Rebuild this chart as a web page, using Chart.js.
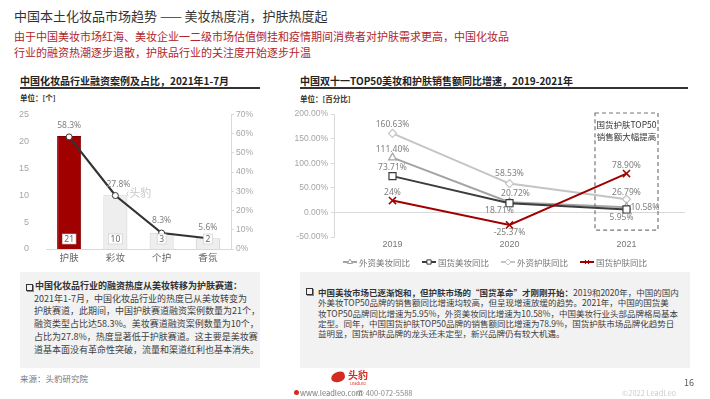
<!DOCTYPE html>
<html>
<head>
<meta charset="utf-8">
<script src="https://cdn.jsdelivr.net/npm/chart.js@4.4.0/dist/chart.umd.min.js"></script>
<style>
  body { margin: 0; width: 710px; height: 399px; overflow: hidden; background: #fff;
         font-family: "Noto Sans CJK SC", "Noto Sans", sans-serif; position: relative; }
  .abs { position: absolute; white-space: nowrap; }
  .ctitle { font-size: 10px; font-weight: bold; color: #222; line-height: 12px; }
  .rule { position: absolute; height: 1.5px; background: #333; }
  .unit { font-size: 7.5px; font-weight: bold; color: #333; line-height: 10px; }
  .box { position: absolute; background: #f2f2f2; color: #404040; }
  .sq { display: inline-block; width: 5px; height: 5px; border: 1px solid #333; box-shadow: 1px 1px 0 #888; position: absolute; }
</style>
</head>
<body>
<div class="abs" style="left:14px;top:7px;font-size:13px;line-height:18px;color:#333;">中国本土化妆品市场趋势 —— 美妆热度消，护肤热度起</div>
<div class="abs" style="left:14px;top:29px;font-size:11px;line-height:15.6px;color:#b0262b;">由于中国美妆市场红海、美妆企业一二级市场估值倒挂和疫情期间消费者对护肤需求更高，中国化妆品<br>行业的融资热潮逐步退散，护肤品行业的关注度开始逐步升温</div>

<div class="abs ctitle" style="left:20px;top:75px;">中国化妆品行业融资案例及占比，2021年1-7月</div>
<div class="rule" style="left:20px;top:87px;width:240px;"></div>
<div class="abs unit" style="left:20px;top:93px;">单位：[个]</div>

<div class="abs ctitle" style="left:300px;top:75px;">中国双十一TOP50美妆和护肤销售额同比增速，2019-2021年</div>
<div class="rule" style="left:300px;top:87px;width:388px;"></div>
<div class="abs unit" style="left:300px;top:94px;">单位：[百分比]</div>

<canvas id="fundChart" width="265" height="170" style="position:absolute;left:0;top:100px;"></canvas>
<canvas id="growthChart" width="420" height="172" style="position:absolute;left:285px;top:104px;"></canvas>

<div class="abs" style="left:126px;top:185px;font-size:11px;line-height:14px;color:#c8c8c8;">‹头豹</div>

<div class="box" style="left:20px;top:272px;width:240px;height:96px;">
  <span class="sq" style="left:6px;top:12px;"></span>
  <div class="abs" style="left:15px;top:8px;font-size:9px;line-height:12.7px;font-weight:bold;color:#333;">中国化妆品行业的融资热度从美妆转移为护肤赛道：</div>
  <div class="abs" style="left:14px;top:20.7px;font-size:9px;line-height:12.7px;">2021年1-7月，中国化妆品行业的热度已从美妆转变为<br>护肤赛道，此期间，中国护肤赛道融资案例数量为21个，<br>融资类型占比达58.3%。美妆赛道融资案例数量为10个，<br>占比为27.8%，热度显著低于护肤赛道。这主要是美妆赛<br>道基本面没有革命性突破，流量和渠道红利也基本消失。</div>
</div>

<div class="box" style="left:300px;top:272px;width:390px;height:96px;">
  <span class="sq" style="left:6px;top:16px;"></span>
  <div class="abs" style="left:18px;top:15px;font-size:8.5px;line-height:10.3px;"><b style="color:#333;">中国美妆市场已逐渐饱和，但护肤市场的“国货革命”才刚刚开始：</b>2019和2020年，中国的国内<br>外美妆TOP50品牌的销售额同比增速均较高，但呈现增速放缓的趋势。2021年，中国的国货美<br>妆TOP50品牌同比增速为5.95%，外资美妆同比增速为10.58%，中国美妆行业头部品牌格局基本<br>定型。同年，中国国货护肤TOP50品牌的销售额同比增速为78.9%，国货护肤市场品牌化趋势日<br>益明显，国货护肤品牌的龙头还未定型，新兴品牌仍有较大机遇。</div>
</div>

<div class="abs" style="left:20px;top:372px;font-size:8.5px;line-height:12px;color:#777;">来源：头豹研究院</div>

<div style="position:absolute;left:331px;top:372px;width:14px;height:10px;background:#d42a20;border-radius:60% 40% 50% 50%;transform:rotate(-15deg);"></div>
<div class="abs" style="left:348px;top:369px;font-size:10px;line-height:12px;font-weight:bold;color:#d42a20;">头豹</div>
<div class="abs" style="left:350px;top:381px;font-size:4px;line-height:5px;color:#d42a20;">LeadLeo</div>
<div style="position:absolute;left:294px;top:390px;width:5px;height:5px;border-radius:50%;background:#d42a20;"></div>
<div class="abs" style="left:300px;top:387px;font-size:7.5px;line-height:11px;color:#777;">www.leadleo.com</div>
<div class="abs" style="left:357px;top:387px;font-size:7.5px;line-height:11px;color:#888;">✆ 400-072-5588</div>
<div class="abs" style="left:684px;top:377px;font-size:9px;line-height:12px;color:#555;">16</div>
<div class="abs" style="left:622px;top:387px;font-size:7.5px;line-height:11px;color:#ccc;">©2022 LeadLeo</div>

<script>
// left chart: financing cases 2021 Jan-Jul
const fundCats = ['护肤', '彩妆', '个护', '香氛'];
const fundCounts = [21, 10, 3, 2];
const fundShares = [58.3, 27.8, 8.3, 5.6];

// right chart: Double 11 TOP50 yoy growth (%)
const growthYears = ['2019', '2020', '2021'];
const foreignMakeup = [111.40, 20.72, 10.58];
const domesticMakeup = [73.71, 18.71, 5.95];
const foreignSkin = [160.63, 58.53, 26.79];
const domesticSkin = [24, -25.37, 78.90];

const labelFont = '8.5px "Noto Sans", "Noto Sans CJK SC", sans-serif';

// draws value labels next to points, offsets kept per dataset
const pointLabels = {
    id: 'pointLabels',
    afterDatasetsDraw(chart, args, opts) {
        const ctx = chart.ctx;
        ctx.save();
        ctx.font = labelFont;
        ctx.fillStyle = '#808080';
        ctx.textBaseline = 'middle';
        chart.data.datasets.forEach((ds, i) => {
            if (!ds.labelOffsets) return;
            chart.getDatasetMeta(i).data.forEach((pt, j) => {
                const off = ds.labelOffsets[j];
                ctx.textAlign = off[2] || 'center';
                ctx.fillText(opts.format(ds.data[j]), pt.x + off[0], pt.y + off[1]);
            });
        });
        ctx.restore();
    }
};

// small white boxes with the count at the foot of each bar
const barValueBoxes = {
    id: 'barValueBoxes',
    afterDatasetsDraw(chart) {
        const ctx = chart.ctx;
        const meta = chart.getDatasetMeta(1);
        ctx.save();
        ctx.font = '8.5px "Noto Sans", sans-serif';
        ctx.textAlign = 'center';
        ctx.textBaseline = 'middle';
        meta.data.forEach((bar, j) => {
            const txt = String(fundCounts[j]);
            const w = ctx.measureText(txt).width + 4;
            const cy = bar.base - 10;
            ctx.fillStyle = '#fff';
            ctx.fillRect(bar.x - w / 2, cy - 5, w, 10);
            ctx.strokeStyle = '#c8c8c8';
            ctx.lineWidth = 0.6;
            ctx.strokeRect(bar.x - w / 2, cy - 5, w, 10);
            ctx.fillStyle = '#666';
            ctx.fillText(txt, bar.x, cy + 0.5);
        });
        ctx.restore();
    }
};

new Chart(document.getElementById('fundChart'), {
    type: 'bar',
    data: {
        labels: fundCats,
        datasets: [{
            type: 'line',
            data: fundShares,
            yAxisID: 'y1',
            order: 0,
            borderColor: '#333',
            borderWidth: 2.2,
            pointStyle: 'circle',
            pointRadius: 3,
            pointBackgroundColor: '#fff',
            pointBorderColor: '#333',
            pointBorderWidth: 1,
            tension: 0,
            labelOffsets: [[0, -11], [3, -11], [0, -12], [0, -11]]
        }, {
            type: 'bar',
            data: fundCounts,
            yAxisID: 'y',
            order: 1,
            backgroundColor: ['#a00000', '#eeeeee', '#eeeeee', '#eeeeee'],
            borderColor: ['#800000', '#cfcfcf', '#cfcfcf', '#cfcfcf'],
            borderWidth: 1,
            categoryPercentage: 1,
            barPercentage: 0.52
        }]
    },
    options: {
        responsive: false,
        maintainAspectRatio: false,
        animation: false,
        devicePixelRatio: 1,
        layout: { padding: { top: 10, left: 0, right: 0, bottom: 0 } },
        plugins: {
            legend: { display: false },
            tooltip: { enabled: false },
            pointLabels: { format: v => v.toFixed(1) + '%' }
        },
        scales: {
            x: {
                offset: true,
                grid: { display: false, drawTicks: false, tickLength: 0 },
                border: { display: true, color: '#d9d9d9' },
                ticks: { color: '#666', font: { size: 9.5, family: '"Noto Sans CJK SC"' }, padding: 3 },
                afterFit(s) { s.height = 21; }
            },
            y: {
                min: 0, max: 25,
                grid: { display: false },
                border: { display: false },
                ticks: { stepSize: 5, color: '#a6a6a6', font: { size: 9 }, padding: 9 },
                afterFit(s) { s.width = 46; }
            },
            y1: {
                position: 'right',
                min: 0, max: 70,
                grid: { drawOnChartArea: false, color: '#d9d9d9', tickLength: 3 },
                border: { display: true, color: '#d9d9d9' },
                ticks: { stepSize: 10, color: '#a6a6a6', font: { size: 8.5 }, padding: 2, callback: v => v + '%' },
                afterFit(s) { s.width = 34; }
            }
        }
    },
    plugins: [pointLabels, barValueBoxes]
});

function drawMarker(ctx, style, x, y, r, color) {
    ctx.fillStyle = '#fff';
    ctx.strokeStyle = color;
    ctx.lineWidth = 1;
    Chart.helpers.drawPoint(ctx, { pointStyle: style, radius: r, borderWidth: 1, rotation: 0 }, x, y);
}

// legend with line + marker, and the dashed call-out around 2021
const growthExtras = {
    id: 'growthExtras',
    afterDraw(chart) {
        const ctx = chart.ctx;
        const xs = chart.scales.x, ys = chart.scales.y;
        ctx.save();
        // call-out box
        const cx = xs.getPixelForValue(2);
        const top = chart.chartArea.top - 1;
        const bottom = ys.getPixelForValue(-36);
        ctx.setLineDash([4, 3]);
        ctx.strokeStyle = '#777';
        ctx.lineWidth = 1.2;
        ctx.strokeRect(cx - 31.5, top, 63, bottom - top);
        ctx.setLineDash([]);
        ctx.fillStyle = '#333';
        ctx.font = '8.5px "Noto Sans CJK SC"';
        ctx.textAlign = 'center';
        ctx.textBaseline = 'middle';
        ctx.fillText('国货护肤TOP50', cx, top + 12);
        ctx.fillText('销售额大幅提高', cx, top + 24);

        // legend
        ctx.font = '8.5px "Noto Sans CJK SC"';
        ctx.textAlign = 'left';
        const items = chart.data.datasets;
        const lineLen = 14, gap = 12;
        const widths = items.map(d => lineLen + 2 + ctx.measureText(d.label).width);
        const total = widths.reduce((a, b) => a + b, 0) + gap * (items.length - 1);
        let x = chart.width / 2 - total / 2;
        const y = chart.height - 14;
        items.forEach((d, i) => {
            ctx.strokeStyle = d.borderColor;
            ctx.lineWidth = 2;
            ctx.beginPath();
            ctx.moveTo(x, y);
            ctx.lineTo(x + lineLen, y);
            ctx.stroke();
            drawMarker(ctx, d.pointStyle, x + lineLen / 2, y, 3, d.borderColor);
            ctx.fillStyle = '#777';
            ctx.fillText(d.label, x + lineLen + 2, y + 0.5);
            x += widths[i] + gap;
        });
        ctx.restore();
    }
};

const seriesStyle = (label, data, color, style, radius, order, offsets) => ({
    label, data, order,
    borderColor: color,
    borderWidth: 2,
    pointStyle: style,
    pointRadius: radius,
    pointBackgroundColor: '#fff',
    pointBorderColor: color,
    pointBorderWidth: style === 'crossRot' ? 1.5 : 1.2,
    tension: 0,
    labelOffsets: offsets
});

new Chart(document.getElementById('growthChart'), {
    type: 'line',
    data: {
        labels: growthYears,
        datasets: [
            seriesStyle('外资美妆同比', foreignMakeup, '#a3a3a3', 'triangle', 4.5, 2,
                [[0, -8], [6, -9], [4, 0, 'left']]),
            seriesStyle('国货美妆同比', domesticMakeup, '#3c3c3c', 'rect', 5, 1,
                [[0, -9], [-10, 7], [-5, 8]]),
            seriesStyle('外资护肤同比', foreignSkin, '#c4c4c4', 'rectRot', 4, 3,
                [[0, -9], [0, -10], [0, -7]]),
            seriesStyle('国货护肤同比', domesticSkin, '#a00000', 'crossRot', 5, 0,
                [[0, -8], [0, 8], [0, -8]])
        ]
    },
    options: {
        responsive: false,
        maintainAspectRatio: false,
        animation: false,
        devicePixelRatio: 1,
        layout: { padding: { top: 10, right: 20, left: 0, bottom: 0 } },
        plugins: {
            legend: { display: false },
            tooltip: { enabled: false },
            pointLabels: { format: v => (Number.isInteger(v) ? v : v.toFixed(2)) + '%' }
        },
        scales: {
            x: {
                offset: true,
                grid: { display: false, drawTicks: false, tickLength: 0 },
                border: { display: false },
                ticks: { color: '#777', font: { size: 9 }, padding: 2 },
                afterFit(s) { s.height = 39; }
            },
            y: {
                min: -50, max: 200,
                border: { display: true, color: '#d9d9d9' },
                grid: {
                    color: c => c.tick && c.tick.value === 0 ? '#d9d9d9' : 'transparent',
                    tickColor: '#d9d9d9',
                    tickLength: 3
                },
                ticks: { stepSize: 50, color: '#a6a6a6', font: { size: 8.5 }, padding: 3, callback: v => v.toFixed(2) + '%' },
                afterFit(s) { s.width = 49; }
            }
        }
    },
    plugins: [pointLabels, growthExtras]
});
</script>
</body>
</html>
